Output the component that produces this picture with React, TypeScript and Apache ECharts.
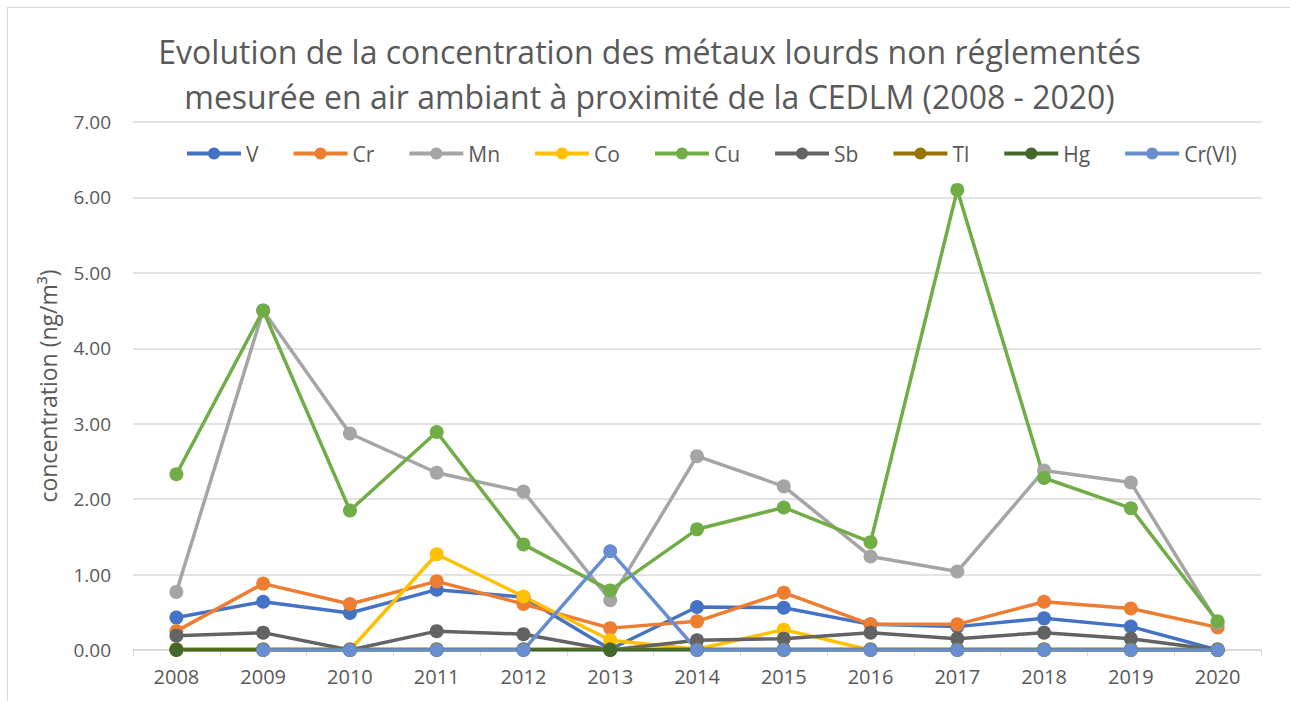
import React, { useEffect, useRef } from "react";
import * as echarts from "echarts";

const years = ["2008", "2009", "2010", "2011", "2012", "2013", "2014", "2015", "2016", "2017", "2018", "2019", "2020"];
const vValues = [0.43, 0.64, 0.49, 0.8, 0.7, 0.01, 0.57, 0.56, 0.34, 0.31, 0.42, 0.31, 0.0];
const crValues = [0.25, 0.88, 0.61, 0.91, 0.61, 0.29, 0.38, 0.76, 0.34, 0.34, 0.64, 0.55, 0.3];
const mnValues = [0.77, 4.5, 2.87, 2.35, 2.1, 0.66, 2.57, 2.17, 1.24, 1.04, 2.38, 2.22, 0.36];
const coValues = [0.0, 0.0, 0.0, 1.27, 0.71, 0.13, 0.01, 0.27, 0.0, 0.0, 0.0, 0.0, 0.0];
const cuValues = [2.33, 4.5, 1.85, 2.89, 1.4, 0.79, 1.6, 1.89, 1.43, 6.1, 2.28, 1.88, 0.38];
const sbValues = [0.19, 0.23, 0.0, 0.25, 0.21, 0.0, 0.13, 0.15, 0.23, 0.15, 0.23, 0.15, 0.0];
const tlValues = [0.01, 0.01, 0.01, 0.01, 0.01, 0.01, 0.01, 0.01, 0.01, 0.01, 0.01, 0.01, 0.01];
const hgValues = [0.0, 0.0, 0.0, 0.0, 0.0, 0.0, 0.0, 0.0, 0.0, 0.0, 0.0, 0.0, 0.0];
const crVIValues = [null, 0.0, 0.0, 0.0, 0.0, 1.31, 0.0, 0.0, 0.0, 0.0, 0.0, 0.0, 0.0];

const seriesNames = ["V", "Cr", "Mn", "Co", "Cu", "Sb", "Tl", "Hg", "Cr(VI)"];
const seriesColors = ["#4472C4", "#ED7D31", "#A5A5A5", "#FFC000", "#70AD47", "#636363", "#997300", "#43682B", "#698ED0"];
const seriesData = [vValues, crValues, mnValues, coValues, cuValues, sbValues, tlValues, hgValues, crVIValues];

const titleText = "Evolution de la concentration des métaux lourds non réglementés\nmesurée en air ambiant à proximité de la CEDLM (2008 - 2020)";
const yAxisName = "concentration (ng/m³)";

const FONT = "'Open Sans', sans-serif";
const TEXT_COLOR = "#595959";

export default function App() {
  const ref = useRef<HTMLDivElement>(null);
  useEffect(() => {
    document.body.style.overflow = "hidden";
    const chart = echarts.init(ref.current!, null, { renderer: "svg" });
    chart.setOption({
      animation: false,
      textStyle: { fontFamily: FONT },
      title: {
        text: titleText,
        left: "center",
        top: 16,
        textStyle: { fontFamily: FONT, fontSize: 32, fontWeight: "normal", color: TEXT_COLOR, lineHeight: 45 },
      },
      legend: {
        top: 130,
        left: 172,
        itemWidth: 54,
        itemHeight: 15,
        itemGap: 33,
        textStyle: { fontFamily: FONT, fontSize: 21, color: TEXT_COLOR },
        lineStyle: { width: 4 },
        data: seriesNames,
      },
      grid: { left: 125, right: 30, top: 114, bottom: 52 },
      xAxis: {
        type: "category",
        data: years,
        boundaryGap: true,
        axisLine: { lineStyle: { color: "#D9D9D9", width: 1.5 } },
        axisTick: { show: true, length: 6, lineStyle: { color: "#D9D9D9" } },
        axisLabel: { fontFamily: FONT, fontSize: 20, color: TEXT_COLOR, margin: 16 },
      },
      yAxis: {
        type: "value",
        min: 0,
        max: 7,
        interval: 1,
        name: yAxisName,
        nameLocation: "middle",
        nameGap: 74,
        nameTextStyle: { fontFamily: FONT, fontSize: 23, color: TEXT_COLOR },
        axisLine: { show: false },
        axisTick: { show: false },
        splitLine: { lineStyle: { color: "#D9D9D9", width: 1.5 } },
        axisLabel: {
          fontFamily: FONT,
          fontSize: 19,
          color: TEXT_COLOR,
          margin: 22,
          formatter: (v: number) => v.toFixed(2),
        },
      },
      series: seriesNames.map((name, i) => ({
        name,
        type: "line",
        data: seriesData[i],
        symbol: "circle",
        symbolSize: 14,
        color: seriesColors[i],
        lineStyle: { width: 3.5, color: seriesColors[i] },
        itemStyle: { color: seriesColors[i] },
        connectNulls: false,
      })),
    });
    return () => chart.dispose();
  }, []);
  return (
    <div
      style={{
        position: "absolute",
        left: 7,
        top: 7,
        width: 1283,
        height: 694,
        borderLeft: "1px solid #D9D9D9",
        borderTop: "1px solid #D9D9D9",
        background: "#fff",
      }}
    >
      <div ref={ref} style={{ width: 1283, height: 694 }} />
    </div>
  );
}
